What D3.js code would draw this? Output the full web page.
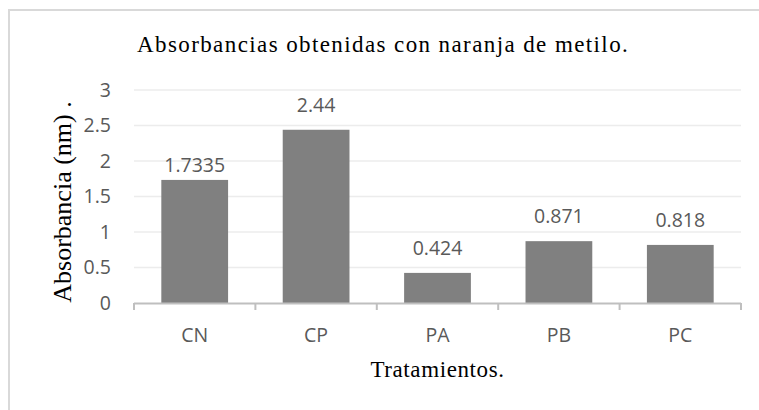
<!DOCTYPE html>
<html>
<head>
<meta charset="utf-8">
<script src="https://d3js.org/d3.v7.min.js"></script>
<style>
  body { margin: 0; background: #fff; }
  .tick-lab { font-family: "Open Sans", sans-serif; font-size: 19.5px; fill: #595959; }
  .serif { font-family: "Liberation Serif", "Times New Roman", serif; fill: #000; }
</style>
</head>
<body>
<div id="chart"></div>
<script>
// data
var categories = ["CN", "CP", "PA", "PB", "PC"];
var values = [1.7335, 2.44, 0.424, 0.871, 0.818];
var valueLabels = ["1.7335", "2.44", "0.424", "0.871", "0.818"];
var yTicks = [0, 0.5, 1, 1.5, 2, 2.5, 3];

var width = 759, height = 410;
var margin = {top: 90, left: 134, right: 18, bottom: 107};

var svg = d3.select("#chart").append("svg")
  .attr("width", width)
  .attr("height", height);

// outer frame (only top and left edges show)
svg.append("line").attr("x1", 9).attr("x2", 759).attr("y1", 10).attr("y2", 10)
  .attr("stroke", "#d9d9d9").attr("stroke-width", 2);
svg.append("line").attr("x1", 9).attr("x2", 9).attr("y1", 9).attr("y2", 410)
  .attr("stroke", "#d9d9d9").attr("stroke-width", 2);

var x = d3.scaleBand()
  .domain(categories)
  .range([margin.left, width - margin.right])
  .paddingInner(0.45)
  .paddingOuter(0.225);

var y = d3.scaleLinear()
  .domain([0, 3])
  .range([height - margin.bottom, margin.top]);

// gridlines
svg.append("g").selectAll("line")
  .data(yTicks.filter(function(d) { return d > 0; }))
  .enter().append("line")
  .attr("x1", margin.left).attr("x2", width - margin.right)
  .attr("y1", function(d) { return y(d); })
  .attr("y2", function(d) { return y(d); })
  .attr("stroke", "#ececec")
  .attr("stroke-width", 1.5);

// y tick labels
svg.append("g").selectAll("text")
  .data(yTicks)
  .enter().append("text")
  .attr("class", "tick-lab")
  .attr("x", 111)
  .attr("y", function(d) { return y(d); })
  .attr("dy", "0.35em")
  .attr("text-anchor", "end")
  .text(function(d) { return d; });

// bars
svg.append("g").selectAll("rect")
  .data(values)
  .enter().append("rect")
  .attr("x", function(d, i) { return x(categories[i]); })
  .attr("y", function(d) { return y(d); })
  .attr("width", x.bandwidth())
  .attr("height", function(d) { return y(0) - y(d); })
  .attr("fill", "#808080");

// value labels (CN label sits lower in the original)
svg.append("g").selectAll("text")
  .data(values)
  .enter().append("text")
  .attr("class", "tick-lab")
  .attr("x", function(d, i) { return x(categories[i]) + x.bandwidth() / 2; })
  .attr("y", function(d, i) { return y(d) - (i === 0 ? 8 : 18); })
  .attr("text-anchor", "middle")
  .text(function(d, i) { return valueLabels[i]; });

// x axis
var xAxis = d3.axisBottom(x).tickSize(0).tickFormat("");
var gx = svg.append("g")
  .attr("transform", "translate(0," + y(0) + ")")
  .call(xAxis);
gx.select(".domain").remove();
gx.append("line")
  .attr("x1", margin.left).attr("x2", width - margin.right)
  .attr("y1", 0.5).attr("y2", 0.5)
  .attr("stroke", "#bfbfbf").attr("stroke-width", 2);

var step = x.step();
var bounds = d3.range(categories.length + 1).map(function(i) { return margin.left + i * step; });
gx.selectAll(".sep").data(bounds).enter().append("line")
  .attr("class", "sep")
  .attr("x1", function(d) { return d; }).attr("x2", function(d) { return d; })
  .attr("y1", 0).attr("y2", 7)
  .attr("stroke", "#bfbfbf").attr("stroke-width", 2);

svg.append("g").selectAll("text")
  .data(categories)
  .enter().append("text")
  .attr("class", "tick-lab")
  .attr("x", function(d) { return x(d) + x.bandwidth() / 2; })
  .attr("y", 342)
  .attr("text-anchor", "middle")
  .text(function(d) { return d; });

// titles
svg.append("text")
  .attr("class", "serif")
  .attr("x", 137).attr("y", 52)
  .style("font-size", "23px")
  .style("letter-spacing", "1.4px")
  .text("Absorbancias obtenidas con naranja de metilo.");

svg.append("text")
  .attr("class", "serif")
  .attr("x", (margin.left + width - margin.right) / 2)
  .attr("y", 377)
  .attr("text-anchor", "middle")
  .style("font-size", "23px")
  .style("letter-spacing", "0.6px")
  .text("Tratamientos.");

svg.append("text")
  .attr("class", "serif")
  .attr("transform", "translate(71,202) rotate(-90)")
  .attr("text-anchor", "middle")
  .style("font-size", "26px")
  .text("Absorbancia (nm) .");
</script>
</body>
</html>
